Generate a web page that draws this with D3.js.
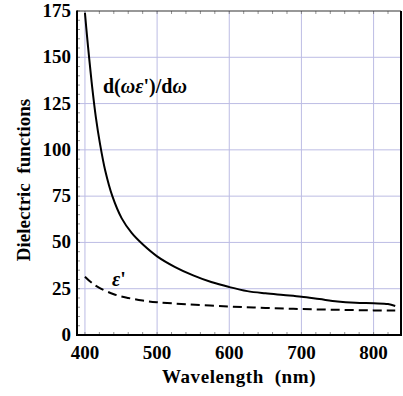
<!DOCTYPE html>
<html>
<head>
<meta charset="utf-8">
<script src="https://cdn.jsdelivr.net/npm/d3@7"></script>
<style>
  body { margin: 0; background: #fff; }
  svg text, svg tspan { font-family: "Liberation Serif", serif !important; }
</style>
</head>
<body>
<svg id="fig" width="403" height="396"></svg>
<script>
// d(w eps')/dw curve (solid)
const derivWavelength = [400, 403, 406, 410, 415, 421, 428, 438, 451, 465, 480, 500, 525, 550, 575, 600, 625, 650, 675, 700, 725, 750, 775, 800, 820, 830];
const derivValue = [174, 161, 149, 134, 118, 103, 89, 75, 63, 55, 49, 42.5, 36.7, 32.2, 28.6, 25.9, 23.7, 22.5, 21.6, 20.7, 19.4, 18.1, 17.4, 17.1, 16.7, 15.7];

// eps' curve (dashed)
const epsWavelength = [400, 410, 420, 440, 460, 480, 500, 540, 600, 650, 700, 750, 800, 830];
const epsValue = [31.5, 28, 25.5, 22, 20, 18.6, 17.7, 16.6, 15.4, 14.6, 14, 13.6, 13.3, 13.2];

const xTicks = [400, 500, 600, 700, 800];
const yTicks = [0, 25, 50, 75, 100, 125, 150, 175];

const LEFT = 77, RIGHT = 401, TOP = 11, BOTTOM = 335;
const GRID_COLOR = "#bcbce4";
const FONT = '"Liberation Serif"';

const svg = d3.select("#fig");

// all texts go through this so the serif font is set on each one
function addText(parent) {
  return parent.append("text")
    .attr("font-family", "Liberation Serif")
    .style("font-family", FONT)
    .attr("font-weight", "bold");
}

const x = d3.scaleLinear().domain([389, 838]).range([LEFT, RIGHT]);
const y = d3.scaleLinear().domain([0, 175]).range([BOTTOM, TOP]);

// grid
const grid = svg.append("g").attr("stroke", GRID_COLOR).attr("stroke-width", 1);
grid.selectAll(".vx")
  .data(xTicks)
  .join("line")
  .attr("x1", (d) => x(d)).attr("x2", (d) => x(d))
  .attr("y1", TOP).attr("y2", BOTTOM);
grid.selectAll(".hy")
  .data(yTicks.filter((d) => d > 0 && d < 175))
  .join("line")
  .attr("x1", LEFT).attr("x2", RIGHT)
  .attr("y1", (d) => y(d)).attr("y2", (d) => y(d));

// minor ticks (inward)
const minor = svg.append("g").attr("stroke", "#777").attr("stroke-width", 0.8);
const xMinor = d3.range(400, 840, 20);
minor.selectAll(".mb").data(xMinor).join("line")
  .attr("x1", (d) => x(d)).attr("x2", (d) => x(d))
  .attr("y1", BOTTOM).attr("y2", BOTTOM - 3);
minor.selectAll(".mt").data(xMinor).join("line")
  .attr("x1", (d) => x(d)).attr("x2", (d) => x(d))
  .attr("y1", TOP).attr("y2", TOP + 3);
const yMinor = d3.range(0, 176, 5);
minor.selectAll(".ml").data(yMinor).join("line")
  .attr("x1", LEFT).attr("x2", LEFT + 3)
  .attr("y1", (d) => y(d)).attr("y2", (d) => y(d));

// curves
const line = d3.line().curve(d3.curveCatmullRom.alpha(0.5));

svg.append("path")
  .attr("d", line(derivWavelength.map((w, i) => [x(w), y(derivValue[i])])))
  .attr("fill", "none")
  .attr("stroke", "#000")
  .attr("stroke-width", 2);

svg.append("path")
  .attr("d", line(epsWavelength.map((w, i) => [x(w), y(epsValue[i])])))
  .attr("fill", "none")
  .attr("stroke", "#000")
  .attr("stroke-width", 2)
  .attr("stroke-dasharray", "9,5");

// frame
svg.append("line").attr("x1", LEFT).attr("x2", RIGHT).attr("y1", TOP).attr("y2", TOP)
  .attr("stroke", "#333").attr("stroke-width", 1.2);
svg.append("line").attr("x1", RIGHT).attr("x2", RIGHT).attr("y1", TOP).attr("y2", BOTTOM)
  .attr("stroke", "#000").attr("stroke-width", 2);
svg.append("line").attr("x1", LEFT).attr("x2", LEFT).attr("y1", TOP - 0.6).attr("y2", BOTTOM + 1)
  .attr("stroke", "#000").attr("stroke-width", 2);
svg.append("line").attr("x1", LEFT - 1).attr("x2", RIGHT + 1).attr("y1", BOTTOM).attr("y2", BOTTOM)
  .attr("stroke", "#000").attr("stroke-width", 2);

// tick labels
const xLabels = svg.append("g");
xTicks.forEach((d) => {
  addText(xLabels)
    .attr("x", x(d))
    .attr("y", 359)
    .attr("text-anchor", "middle")
    .attr("font-size", 19)
    .text(d);
});

const yLabels = svg.append("g");
yTicks.forEach((d) => {
  addText(yLabels)
    .attr("x", 71)
    .attr("y", y(d) + 6)
    .attr("text-anchor", "end")
    .attr("font-size", 19)
    .text(d);
});

// axis titles
addText(svg)
  .attr("x", (LEFT + RIGHT) / 2)
  .attr("y", 383)
  .attr("text-anchor", "middle")
  .attr("font-size", 19)
  .attr("letter-spacing", 0.6)
  .attr("xml:space", "preserve")
  .text("Wavelength  (nm)");

addText(svg)
  .attr("transform", "translate(30,180) rotate(-90)")
  .attr("text-anchor", "middle")
  .attr("font-size", 19)
  .attr("xml:space", "preserve")
  .text("Dielectric  functions");

// curve labels
const lab = addText(svg)
  .attr("x", 103)
  .attr("y", 93)
  .attr("font-size", 20);
lab.append("tspan").text("d(");
lab.append("tspan").attr("font-style", "italic").text("ωε");
lab.append("tspan").text("')/d");
lab.append("tspan").attr("font-style", "italic").text("ω");

const epsLab = addText(svg)
  .attr("x", 112)
  .attr("y", 286)
  .attr("font-size", 20);
epsLab.append("tspan").attr("font-style", "italic").text("ε");
epsLab.append("tspan").text("'");
</script>
</body>
</html>
